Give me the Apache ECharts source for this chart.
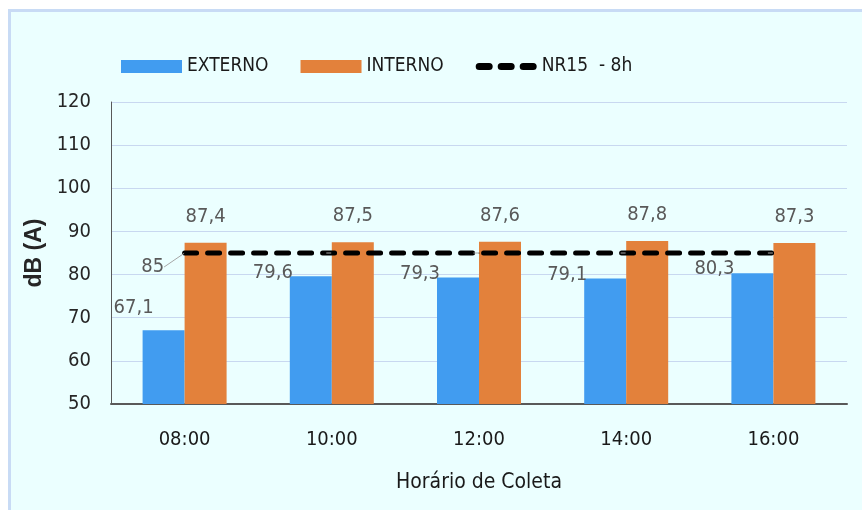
<!DOCTYPE html>
<html>
<head>
    <meta charset="utf-8"/>
    <title>Horário de Coleta</title>
    <script src="https://cdn.jsdelivr.net/npm/echarts@6/dist/echarts.min.js"></script>
    <style>
        body { margin: 0; background: #ffffff; }
        .moldura {
            position: absolute; left: 8px; top: 9px; width: 851px; height: 498px;
            border-left: 3px solid #c8dbf5; border-top: 3px solid #c8dbf5;
            background: #ebffff;
        }
        #main { position: absolute; left: 0; top: 0; width: 862px; height: 510px; }
    </style>
</head>
<body>
    <div class="moldura"></div>
    <div id="main"></div>

    <script type="text/javascript">
        // dados
        var horarios = ['08:00', '10:00', '12:00', '14:00', '16:00'];
        var externo = [67.1, 79.6, 79.3, 79.1, 80.3];
        var interno = [87.4, 87.5, 87.6, 87.8, 87.3];
        var nr15 = [85, 85, 85, 85, 85];
        var yTicks = [50, 60, 70, 80, 90, 100, 110, 120];

        var fonte = '"DejaVu Sans Condensed", "Liberation Sans Narrow", sans-serif';

        function virgula(p) {
            return String(p.value).replace('.', ',');
        }

        // ícone da legenda: três traços arredondados
        var tracos = 'path://M3.5,0 h10 a3.5,3.5 0 0 1 0,7 h-10 a3.5,3.5 0 0 1 0,-7 z' +
            ' M25.5,0 h10 a3.5,3.5 0 0 1 0,7 h-10 a3.5,3.5 0 0 1 0,-7 z' +
            ' M47.5,0 h10 a3.5,3.5 0 0 1 0,7 h-10 a3.5,3.5 0 0 1 0,-7 z';

        var myChart = echarts.init(document.getElementById('main'));

        var option = {
            backgroundColor: 'transparent',
            animation: false,
            legend: {
                left: 116,
                top: 52,
                itemWidth: 61,
                itemHeight: 13,
                itemGap: 32,
                textStyle: { fontFamily: fonte, fontSize: 19, color: '#1a1a1a' },
                data: [
                    { name: 'EXTERNO', icon: 'rect' },
                    { name: 'INTERNO', icon: 'rect' },
                    { name: 'NR15  - 8h', icon: tracos, itemStyle: { color: '#000000', borderWidth: 0 } }
                ]
            },
            grid: {
                left: 111,
                right: 15,
                top: 102,
                bottom: 106
            },
            xAxis: {
                type: 'category',
                data: horarios,
                name: 'Horário de Coleta',
                nameLocation: 'middle',
                nameGap: 68,
                nameTextStyle: { fontFamily: fonte, fontSize: 21, color: '#1a1a1a' },
                axisTick: { show: false },
                axisLine: { lineStyle: { color: '#595959', width: 2 } },
                axisLabel: { fontFamily: fonte, fontSize: 20, color: '#1a1a1a', margin: 26 }
            },
            yAxis: {
                type: 'value',
                min: yTicks[0],
                max: yTicks[yTicks.length - 1],
                interval: 10,
                name: 'dB (A)',
                nameLocation: 'middle',
                nameGap: 53,
                nameTextStyle: { fontFamily: '"Liberation Sans", Arial, sans-serif', fontSize: 23, fontWeight: 'bold', color: '#262626' },
                axisLine: { show: true, lineStyle: { color: '#595959', width: 1 } },
                axisTick: { show: false },
                splitLine: { lineStyle: { color: '#c8d8f0', width: 1 } },
                axisLabel: { fontFamily: fonte, fontSize: 20, color: '#262626', margin: 20 }
            },
            series: [
                {
                    name: 'EXTERNO',
                    type: 'bar',
                    barWidth: 42,
                    barGap: '0%',
                    itemStyle: { color: '#419cf0' },
                    label: {
                        show: true, position: 'top', offset: [-38, 11],
                        fontFamily: fonte, fontSize: 20, color: '#595959', formatter: virgula
                    },
                    data: externo.map(function (v, i) {
                        if (i === 0) {
                            return { value: v, label: { offset: [-30, -7] } };
                        }
                        return v;
                    })
                },
                {
                    name: 'INTERNO',
                    type: 'bar',
                    barWidth: 42,
                    barGap: '0%',
                    itemStyle: { color: '#e3813b' },
                    label: {
                        show: true, position: 'top', offset: [0, -11],
                        fontFamily: fonte, fontSize: 20, color: '#595959', formatter: virgula
                    },
                    data: interno
                },
                {
                    name: 'NR15  - 8h',
                    type: 'line',
                    symbol: 'circle',
                    symbolSize: 1,
                    showSymbol: true,
                    z: 5,
                    lineStyle: { color: '#000000', width: 5, type: [12, 11], cap: 'round' },
                    itemStyle: { color: '#000000' },
                    label: {
                        show: true, position: 'left', distance: 5,
                        fontFamily: fonte, fontSize: 20, color: '#595959',
                        formatter: function (p) {
                            return p.dataIndex === 0 ? String(p.value) : '';
                        }
                    },
                    labelLine: { show: true, lineStyle: { color: '#a6a6a6', width: 1 } },
                    labelLayout: function (p) {
                        return p.dataIndex === 0 ? { dx: -15, dy: 14 } : {};
                    },
                    data: nr15
                }
            ]
        };

        myChart.setOption(option);
    </script>
</body>
</html>
